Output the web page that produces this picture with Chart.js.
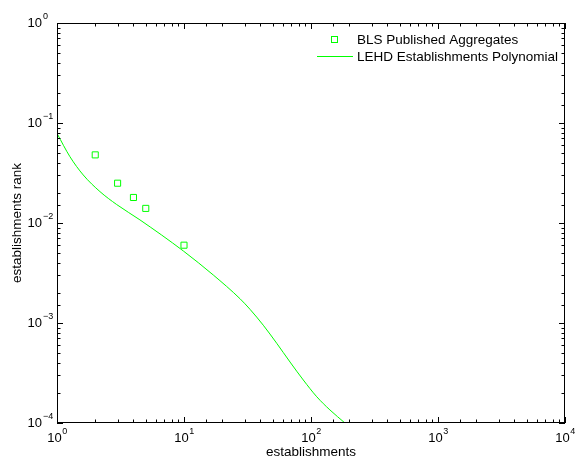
<!DOCTYPE html>
<html>
<head>
<meta charset="utf-8">
<script src="https://cdn.jsdelivr.net/npm/chart.js@4/dist/chart.umd.min.js"></script>
<style>
  html, body { margin: 0; padding: 0; background: #fff; }
  #wrap { width: 575px; height: 460px; }
</style>
</head>
<body>
<div id="wrap"><canvas id="chart" width="575" height="460"></canvas></div>
<script>
// --- data ---
const blsEstablishments = [2, 3, 4, 5, 10];
const blsRank = [0.048, 0.025, 0.018, 0.014, 0.006];

const lehdEstablishments = [1, 1.265, 1.61, 2.18, 2.95, 4.5, 9.88, 17, 27.6, 33.1, 42.1, 53.7, 68.4, 87, 111, 141, 185];
const lehdRank = [0.0788, 0.046, 0.0302, 0.0206, 0.0153, 0.01074, 0.00525, 0.00302, 0.00175, 0.00137, 0.00095, 0.000627, 0.000407, 0.000269, 0.000183, 0.000135, 0.0001];

const seriesLabels = ['BLS Published Aggregates', 'LEHD Establishments Polynomial'];
const xTitle = 'establishments';
const yTitle = 'establishments rank';

const GREEN = '#00ff00';
const FONT = '"Liberation Sans", Arial, Helvetica, sans-serif';

const toXY = (xs, ys) => xs.map((x, i) => ({ x, y: ys[i] }));
const isDecade = v => Math.abs(Math.log10(v) - Math.round(Math.log10(v))) < 1e-9;

// --- box, inward ticks, 10^n labels, titles, legend ---
const matlabAxes = {
  id: 'matlabAxes',
  afterDraw(chart) {
    const { ctx, chartArea: a, scales } = chart;
    const xs = scales.x, ys = scales.y;
    ctx.save();
    ctx.strokeStyle = '#000';
    ctx.lineWidth = 1;
    ctx.strokeRect(a.left + 0.5, a.top + 0.5, a.right - a.left - 1, a.bottom - a.top - 1);

    ctx.beginPath();
    xs.ticks.forEach(t => {
      const px = Math.round(xs.getPixelForValue(t.value)) + 0.5;
      const len = isDecade(t.value) ? 6 : 3.5;
      ctx.moveTo(px, a.bottom); ctx.lineTo(px, a.bottom - len);
      ctx.moveTo(px, a.top); ctx.lineTo(px, a.top + len);
    });
    ys.ticks.forEach(t => {
      const py = Math.round(ys.getPixelForValue(t.value)) + 0.5;
      const len = isDecade(t.value) ? 6 : 3.5;
      ctx.moveTo(a.left, py); ctx.lineTo(a.left + len, py);
      ctx.moveTo(a.right, py); ctx.lineTo(a.right - len, py);
    });
    ctx.stroke();

    // tick labels as 10 with raised exponent
    ctx.fillStyle = '#000';
    ctx.textBaseline = 'middle';
    const baseFont = '13px ' + FONT, expFont = '9px ' + FONT;
    const label = (v) => String(Math.round(Math.log10(v))).replace('-', '\u2212');
    xs.ticks.filter(t => isDecade(t.value)).forEach(t => {
      const px = xs.getPixelForValue(t.value);
      const e = label(t.value);
      ctx.font = baseFont; const wb = ctx.measureText('10').width;
      ctx.font = expFont; const we = ctx.measureText(e).width;
      const x0 = px - (wb + we) / 2;
      const y0 = a.bottom + 15;
      ctx.textAlign = 'left';
      ctx.font = baseFont; ctx.fillText('10', x0, y0);
      ctx.font = expFont; ctx.fillText(e, x0 + wb + 0.5, y0 - 6);
    });
    ys.ticks.filter(t => isDecade(t.value)).forEach(t => {
      const py = ys.getPixelForValue(t.value);
      const e = label(t.value);
      ctx.textAlign = 'right';
      ctx.font = baseFont; ctx.fillText('10', 42, py);
      ctx.textAlign = 'left';
      ctx.font = expFont; ctx.fillText(e, 43, py - 6);
    });

    // axis titles
    ctx.font = '13.5px ' + FONT;
    ctx.textAlign = 'center';
    ctx.fillText(xTitle, (a.left + a.right) / 2, 452);
    ctx.save();
    ctx.translate(17, (a.top + a.bottom) / 2);
    ctx.rotate(-Math.PI / 2);
    ctx.fillText(yTitle, 0, 0);
    ctx.restore();

    // legend
    const ds = chart.data.datasets;
    ctx.strokeStyle = ds[0].borderColor;
    ctx.lineWidth = 1;
    ctx.strokeRect(331.5, 36.5, 6, 6);
    ctx.strokeStyle = ds[1].borderColor;
    ctx.beginPath(); ctx.moveTo(317, 56.5); ctx.lineTo(353, 56.5); ctx.stroke();
    ctx.textAlign = 'left';
    ctx.fillText(ds[0].label, 357, 40);
    ctx.fillText(ds[1].label, 357, 57);
    ctx.restore();
  }
};

new Chart(document.getElementById('chart'), {
  data: {
    datasets: [
      {
        type: 'scatter',
        label: seriesLabels[0],
        data: toXY(blsEstablishments, blsRank),
        borderColor: GREEN,
        backgroundColor: 'rgba(0,0,0,0)',
        pointStyle: 'rect',
        pointRadius: 4.3,
        pointBorderWidth: 1
      },
      {
        type: 'line',
        label: seriesLabels[1],
        data: toXY(lehdEstablishments, lehdRank),
        borderColor: GREEN,
        borderWidth: 1,
        pointRadius: 0,
        cubicInterpolationMode: 'monotone',
        fill: false
      }
    ]
  },
  options: {
    responsive: false,
    animation: false,
    layout: { padding: { left: 0, right: 10, top: 23, bottom: 0 } },
    plugins: { legend: { display: false }, tooltip: { enabled: false } },
    scales: {
      x: {
        type: 'logarithmic', min: 1, max: 10000,
        grid: { display: false }, border: { display: false },
        ticks: { display: false },
        afterFit: s => { s.height = 37; }
      },
      y: {
        type: 'logarithmic', min: 0.0001, max: 1,
        grid: { display: false }, border: { display: false },
        ticks: { display: false },
        afterFit: s => { s.width = 57; }
      }
    }
  },
  plugins: [matlabAxes]
});
</script>
</body>
</html>
